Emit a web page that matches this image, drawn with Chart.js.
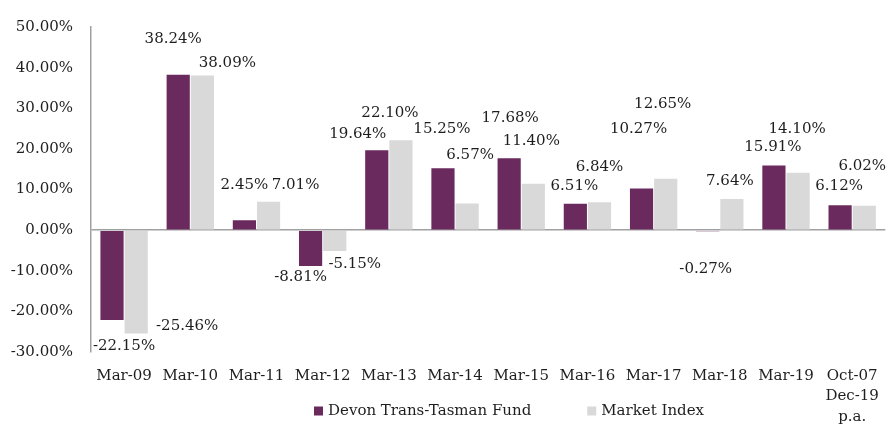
<!DOCTYPE html>
<html>
<head>
<meta charset="utf-8">
<script src="https://cdn.jsdelivr.net/npm/chart.js@4/dist/chart.umd.min.js"></script>
<style>
  html, body { margin: 0; padding: 0; background: #ffffff; }
  #wrap { position: relative; width: 893px; height: 425px; }
</style>
</head>
<body>
<div id="wrap"><canvas id="c" width="893" height="425"></canvas></div>
<script>
// ---- data ----
const categories = ['Mar-09','Mar-10','Mar-11','Mar-12','Mar-13','Mar-14','Mar-15','Mar-16','Mar-17','Mar-18','Mar-19',['Oct-07','Dec-19','p.a.']];
const fundName = 'Devon Trans-Tasman Fund';
const marketName = 'Market Index';
const fundValues = [-22.15, 38.24, 2.45, -8.81, 19.64, 15.25, 17.68, 6.51, 10.27, -0.27, 15.91, 6.12];
const marketValues = [-25.46, 38.09, 7.01, -5.15, 22.10, 6.57, 11.40, 6.84, 12.65, 7.64, 14.10, 6.02];
const yTicks = [50, 40, 30, 20, 10, 0, -10, -20, -30];

// ---- label placement (offsets in px from each bar's end, as in the reference) ----
const fundLabelDX = [12, -5, 0, -10, -19, -1, 1, -1, -3, -2, -1, -1];
const fundLabelDY = [26, -36, -35, 11, -16, -39, -40, -18, -59, 38, -18, -19];
const marketLabelDX = [51, 25, 27, 20, -11, 3, -2, 0, -3, -2, -1, -2];
const marketLabelDY = [-7, -12, -17, 13, -27, -48, -43, -35, -75, -18, -44, -40];

const FONT = '"DejaVu Serif", "Liberation Serif", serif';
const TEXT = '#1e1e1e';
const AXIS = '#a0a0a0';
const PURPLE = '#6b2a5e';
const GREY = '#d9d9d9';

const fmt = v => v.toFixed(2) + '%';

const labelPlugin = {
  id: 'valueLabels',
  afterDatasetsDraw(chart) {
    const ctx = chart.ctx;
    ctx.save();
    ctx.font = '15px ' + FONT;
    ctx.fillStyle = TEXT;
    ctx.textAlign = 'center';
    ctx.textBaseline = 'middle';
    const sets = [[fundValues, fundLabelDX, fundLabelDY], [marketValues, marketLabelDX, marketLabelDY]];
    sets.forEach((s, di) => {
      const meta = chart.getDatasetMeta(di);
      meta.data.forEach((bar, i) => {
        ctx.fillText(fmt(s[0][i]), bar.x + s[1][i], bar.y + s[2][i]);
      });
    });
    ctx.restore();
  }
};

const legendPlugin = {
  id: 'customLegend',
  afterDraw(chart) {
    const ctx = chart.ctx;
    ctx.save();
    ctx.font = '15px ' + FONT;
    ctx.textBaseline = 'middle';
    ctx.textAlign = 'left';
    const y = 411;
    let x = 314;
    const items = [[fundName, PURPLE], [marketName, GREY]];
    items.forEach(([name, color]) => {
      ctx.fillStyle = color;
      ctx.fillRect(x, y - 4.5, 9, 9);
      ctx.fillStyle = TEXT;
      ctx.fillText(name, x + 14, y);
      x += 14 + ctx.measureText(name).width + 56;
    });
    ctx.restore();
  }
};

new Chart(document.getElementById('c'), {
  type: 'bar',
  data: {
    labels: categories,
    datasets: [
      { label: fundName, data: fundValues, backgroundColor: PURPLE, borderWidth: 0,
        categoryPercentage: 0.73, barPercentage: 0.96 },
      { label: marketName, data: marketValues, backgroundColor: GREY, borderWidth: 0,
        categoryPercentage: 0.73, barPercentage: 0.96 }
    ]
  },
  options: {
    responsive: false,
    animation: false,
    layout: { padding: { top: 25, right: 2, left: 0, bottom: 0 } },
    plugins: {
      legend: { display: false },
      tooltip: { enabled: false }
    },
    scales: {
      x: {
        grid: { display: false, drawTicks: false },
        border: { display: false },
        ticks: { color: TEXT, font: { family: FONT, size: 15, lineHeight: 1.35 }, padding: 14, maxRotation: 0, autoSkip: false },
        afterFit(scale) { scale.height = 73; }
      },
      y: {
        min: -30, max: 50,
        afterBuildTicks(scale) { scale.ticks = yTicks.map(v => ({ value: v })); },
        grid: {
          drawTicks: false,
          color: ctx => (ctx.tick && ctx.tick.value === 0) ? AXIS : 'rgba(0,0,0,0)',
          lineWidth: 1.5
        },
        border: { display: true, color: AXIS, width: 1.5 },
        ticks: { color: TEXT, font: { family: FONT, size: 15 }, padding: 18,
          callback: v => Number(v).toFixed(2) + '%' },
        afterFit(scale) { scale.width = 91; }
      }
    }
  },
  plugins: [labelPlugin, legendPlugin]
});
</script>
</body>
</html>
